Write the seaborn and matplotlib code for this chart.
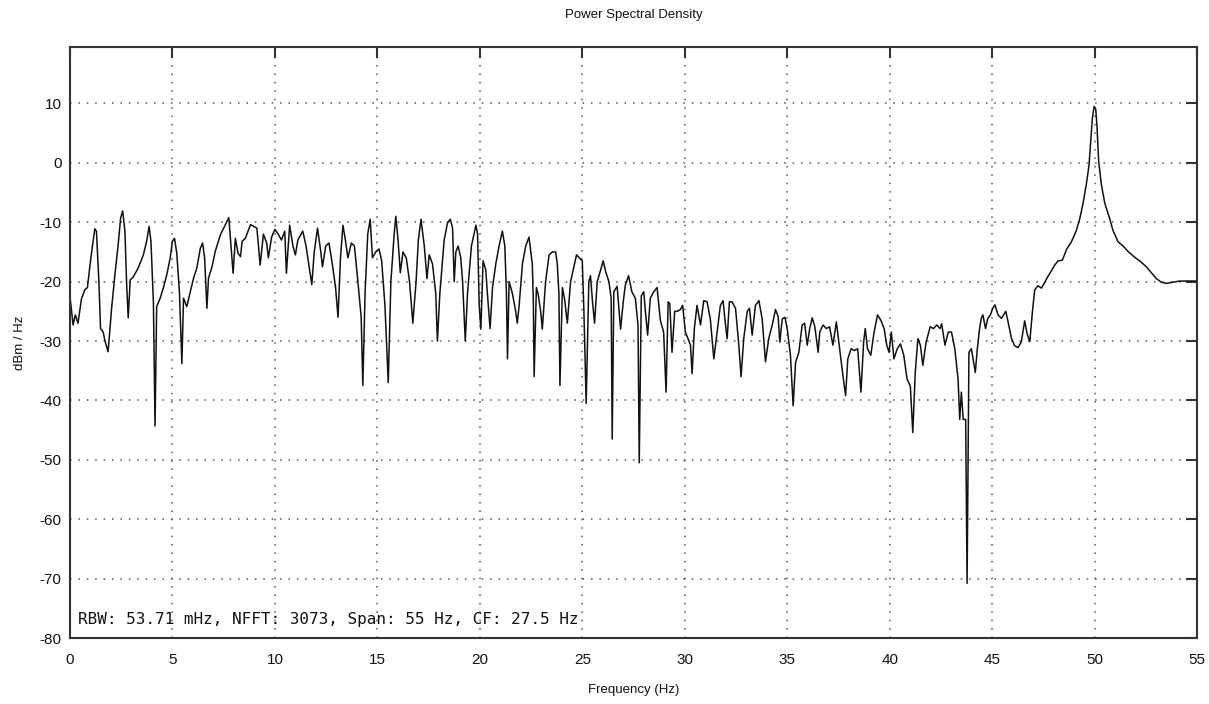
import numpy as np
import pandas as pd
import matplotlib
matplotlib.use("Agg")
import matplotlib.pyplot as plt
import seaborn as sns

# ---- data (frequency in Hz, PSD in dBm/Hz) ----
freq_a = [0.0, 0.15, 0.26, 0.39, 0.56, 0.72, 0.85, 0.96, 1.08, 1.21, 1.29, 1.41, 1.49, 1.62, 1.70,
          1.86, 2.03, 2.19, 2.35, 2.47, 2.57, 2.68, 2.76, 2.84, 2.94, 3.09, 3.33, 3.58, 3.74, 3.86,
          3.95, 4.07, 4.15, 4.23, 4.40, 4.56, 4.72, 4.89, 5.0, 5.1, 5.21, 5.34, 5.46, 5.54, 5.70,
          5.87, 6.03, 6.19, 6.36, 6.47, 6.57, 6.68, 6.76, 6.93, 7.09, 7.34, 7.50, 7.75, 7.88, 7.96,
          8.07, 8.20, 8.32, 8.40, 8.56, 8.81, 8.97]
psd_a = [-22.5, -27.3, -25.6, -27.0, -22.9, -21.4, -21.0, -17.7, -14.4, -11.1, -11.5, -20.0, -27.9, -28.5, -29.9,
         -31.8, -24.5, -18.9, -13.8, -9.3, -8.1, -11.5, -20.0, -26.1, -19.7, -19.2, -17.7, -15.5, -13.2, -10.7,
         -13.2, -23.4, -44.3, -24.2, -22.8, -21.0, -18.9, -16.0, -13.2, -12.7, -15.2, -21.7, -33.8, -22.8, -24.2,
         -21.7, -19.4, -17.7, -14.4, -13.5, -16.0, -24.5, -19.4, -17.5, -14.9, -12.1, -11.0, -9.2, -14.9, -18.6,
         -12.7, -15.2, -15.8, -13.2, -12.7, -10.4, -10.7]

freq_b = [9.12, 9.28, 9.44, 9.6, 9.68, 9.84, 10.0, 10.16, 10.32, 10.48, 10.56, 10.72, 10.88, 11.0, 11.12,
          11.36, 11.52, 11.8, 11.92, 12.08, 12.24, 12.32, 12.48, 12.64, 12.8, 12.96, 13.08, 13.2, 13.32,
          13.44, 13.56, 13.73, 13.88, 14.05, 14.21, 14.29, 14.4, 14.53, 14.65, 14.76, 14.92, 15.08, 15.21,
          15.37, 15.53, 15.66, 15.82, 15.9, 16.01, 16.12, 16.25, 16.41, 16.57, 16.73, 16.89, 17.0, 17.13,
          17.29, 17.42, 17.53, 17.69, 17.85, 17.93, 18.05]
psd_b = [-11.0, -17.2, -12.0, -13.5, -16.0, -12.5, -11.2, -12.0, -13.0, -11.5, -18.6, -10.5, -14.0, -15.5, -13.0,
         -11.5, -14.0, -20.5, -15.0, -11.0, -15.0, -17.5, -14.0, -13.5, -17.0, -21.0, -26.0, -16.0, -10.5,
         -13.0, -16.0, -13.5, -14.0, -20.0, -26.0, -37.5, -22.0, -12.0, -9.5, -16.0, -15.0, -14.5, -16.5,
         -24.0, -37.0, -20.0, -12.0, -9.0, -13.0, -18.5, -15.0, -16.0, -20.0, -27.0, -20.0, -13.0, -9.5,
         -14.0, -19.5, -15.5, -17.0, -22.0, -30.0, -22.0]

freq_c = [18.26, 18.43, 18.56, 18.67, 18.75, 18.83, 18.94, 19.07, 19.16, 19.29, 19.40, 19.59, 19.81, 19.89,
          19.97, 20.05, 20.16, 20.29, 20.37, 20.50, 20.62, 20.78, 20.94, 21.10, 21.22, 21.30, 21.35, 21.43,
          21.59, 21.75, 21.83, 21.92, 22.08, 22.24, 22.40, 22.56, 22.61, 22.65, 22.76, 22.84, 22.97, 23.05,
          23.21, 23.38, 23.54, 23.70, 23.78, 23.86, 23.91, 24.03, 24.14, 24.27, 24.43, 24.72, 25.0, 25.08,
          25.19, 25.32, 25.4, 25.5, 25.6, 25.73, 25.9, 26.02, 26.14, 26.3, 26.41, 26.46, 26.54, 26.7, 26.87,
          27.0, 27.1]
psd_c = [-13.0, -10.0, -9.5, -11.0, -20.0, -15.0, -14.0, -16.0, -20.0, -30.0, -22.0, -14.0, -10.5, -12.0,
         -24.0, -28.0, -16.5, -18.0, -22.0, -27.9, -21.0, -17.0, -14.0, -11.5, -14.0, -22.0, -33.0, -20.0,
         -22.0, -25.0, -27.0, -24.0, -17.0, -14.0, -12.5, -17.0, -23.0, -36.0, -21.0, -22.0, -25.0, -28.0,
         -20.0, -15.5, -15.0, -15.0, -17.0, -22.0, -37.5, -21.0, -23.0, -27.0, -20.0, -15.5, -16.5, -25.0,
         -40.5, -20.0, -19.0, -23.4, -27.0, -20.0, -18.0, -16.5, -18.3, -20.0, -22.8, -46.5, -21.7, -20.8, -28.0,
         -23.4, -20.6]

freq_d = [27.26, 27.42, 27.59, 27.72, 27.78, 27.88, 28.0, 28.08, 28.19, 28.32, 28.49, 28.65, 28.81, 28.97,
          29.09, 29.19, 29.27, 29.38, 29.51, 29.63, 29.79, 29.9, 30.03, 30.16, 30.28, 30.36, 30.47, 30.6,
          30.77, 30.93, 31.09, 31.25, 31.42, 31.58, 31.74, 31.87, 31.99, 32.07, 32.18, 32.31, 32.48, 32.64,
          32.75, 32.88, 33.05, 33.16, 33.29, 33.45, 33.62, 33.78, 33.94, 34.1, 34.27, 34.43, 34.56, 34.64,
          34.76, 34.89, 35.0, 35.16, 35.29, 35.41, 35.57, 35.73, 35.85, 35.98, 36.1, 36.22]
psd_d = [-19.0, -21.7, -22.8, -27.3, -50.5, -22.4, -21.7, -25.0, -29.0, -22.8, -21.7, -21.0, -26.5, -28.5,
         -38.6, -23.4, -23.7, -31.9, -25.0, -25.0, -24.7, -24.0, -28.5, -29.6, -30.7, -35.5, -27.9, -24.0,
         -27.3, -23.2, -23.4, -26.3, -33.0, -28.5, -24.0, -23.2, -27.3, -29.6, -23.4, -23.4, -24.5, -30.7,
         -36.0, -29.6, -25.0, -24.5, -29.0, -24.0, -23.2, -26.3, -33.5, -29.6, -27.3, -24.7, -25.9, -30.2,
         -26.3, -26.0, -27.9, -32.4, -40.9, -33.6, -31.9, -27.3, -27.0, -30.7, -27.9, -26.1]

freq_e = [36.35, 36.51, 36.59, 36.75, 36.91, 37.07, 37.23, 37.4, 37.56, 37.72, 37.85, 37.96, 38.12, 38.28,
          38.44, 38.6, 38.73, 38.81, 38.92, 39.08, 39.24, 39.41, 39.57, 39.73, 39.86, 39.97, 40.08, 40.21,
          40.37, 40.53, 40.69, 40.85, 41.01, 41.13, 41.25, 41.38, 41.5, 41.62, 41.78, 41.98, 42.14, 42.3,
          42.46, 42.54, 42.7, 42.86, 43.02, 43.18, 43.34, 43.42, 43.5, 43.59, 43.71, 43.78, 43.87, 43.99,
          44.07, 44.18, 44.28, 44.39, 44.47, 44.55, 44.68, 44.79, 44.92, 45.03, 45.14]
psd_e = [-27.6, -31.9, -28.5, -27.3, -27.9, -27.6, -30.7, -26.8, -31.3, -35.8, -39.2, -33.0, -31.3, -31.6,
         -31.3, -38.6, -30.2, -27.9, -31.3, -32.4, -28.5, -25.6, -26.5, -27.9, -30.7, -31.9, -28.5, -33.0,
         -31.3, -30.5, -32.4, -36.4, -37.6, -45.4, -35.3, -29.6, -30.7, -34.1, -30.2, -27.6, -27.9, -27.3,
         -27.9, -27.1, -30.7, -28.5, -28.5, -31.3, -36.4, -43.2, -38.6, -43.2, -43.2, -70.8, -31.9, -31.3,
         -33.0, -35.3, -31.3, -27.9, -26.2, -25.6, -27.9, -26.2, -25.6, -24.5, -23.9]

freq_f = [45.29, 45.46, 45.67, 45.83, 45.94, 46.1, 46.27, 46.43, 46.59, 46.71, 46.84, 46.97, 47.08, 47.24,
          47.41, 47.57, 47.73, 47.89, 48.06, 48.22, 48.43, 48.63, 48.87, 49.11, 49.28, 49.44, 49.6, 49.73,
          49.81, 49.89, 49.98, 50.06, 50.12, 50.2, 50.33, 50.5, 50.74, 50.9, 51.15, 51.39, 51.63, 51.96,
          52.2, 52.53, 52.77, 53.02, 53.26, 53.5, 53.83, 54.15, 54.48, 55.0]
psd_f = [-25.6, -26.2, -25.0, -27.6, -29.5, -30.8, -31.1, -30.1, -26.6, -28.8, -30.1, -25.0, -21.4, -20.7,
         -21.1, -20.1, -19.1, -18.2, -17.2, -16.5, -16.4, -14.6, -13.3, -11.4, -9.4, -6.8, -3.6, -0.4,
         3.5, 7.4, 9.5, 9.0, 6.1, 0.3, -3.6, -6.8, -9.4, -11.4, -13.3, -14.0, -14.9, -15.9,
         -16.5, -17.5, -18.5, -19.5, -20.1, -20.3, -20.1, -19.9, -19.9, -19.9]

x_ticks = [0, 5, 10, 15, 20, 25, 30, 35, 40, 45, 50, 55]
y_ticks = [10, 0, -10, -20, -30, -40, -50, -60, -70, -80]
title_text = "Power Spectral Density"
x_label = "Frequency (Hz)"
y_label = "dBm / Hz"
info_text = "RBW: 53.71 mHz, NFFT: 3073, Span: 55 Hz, CF: 27.5 Hz"

freq = freq_a + freq_b + freq_c + freq_d + freq_e + freq_f
psd = psd_a + psd_b + psd_c + psd_d + psd_e + psd_f
df = pd.DataFrame({"freq": freq, "psd": psd})

sns.set_theme(style="white")
plt.rcParams["font.family"] = ["Liberation Sans", "DejaVu Sans"]
plt.rcParams["axes.unicode_minus"] = False

fig = plt.figure(figsize=(12.09, 7.04), dpi=100)
ax = fig.add_axes([70 / 1209, 1 - 638 / 704, 1127 / 1209, 591 / 704])

sns.lineplot(data=df, x="freq", y="psd", ax=ax, color="#111111", linewidth=1.1,
             estimator=None, sort=False)

ax.set_xlim(0, 55)
ax.set_ylim(-80, 19.5)
ax.set_xticks(x_ticks)
ax.set_yticks(y_ticks)
ax.grid(True, color="#555555", linestyle=(0, (1, 4.5)), linewidth=1.1)
for s in ax.spines.values():
    s.set_color("#333333")
    s.set_linewidth(1.5)
ax.tick_params(axis="both", direction="in", length=8, width=1.5, color="#333333",
               top=True, right=True, labelsize=11, labelcolor="#111111")
ax.tick_params(axis="x", pad=11)
ax.tick_params(axis="y", pad=6)

ax.set_title(title_text, fontsize=9.5, pad=21, color="#111111")
ax.set_xlabel(x_label, fontsize=9.5, labelpad=12, color="#111111")
ax.set_ylabel(y_label, fontsize=9.5, labelpad=10, color="#111111")
ax.text(0.007, 0.018, info_text, transform=ax.transAxes, fontsize=11.5,
        family="DejaVu Sans Mono", color="#111111", ha="left", va="bottom")

fig.savefig("out.png", dpi=100)
